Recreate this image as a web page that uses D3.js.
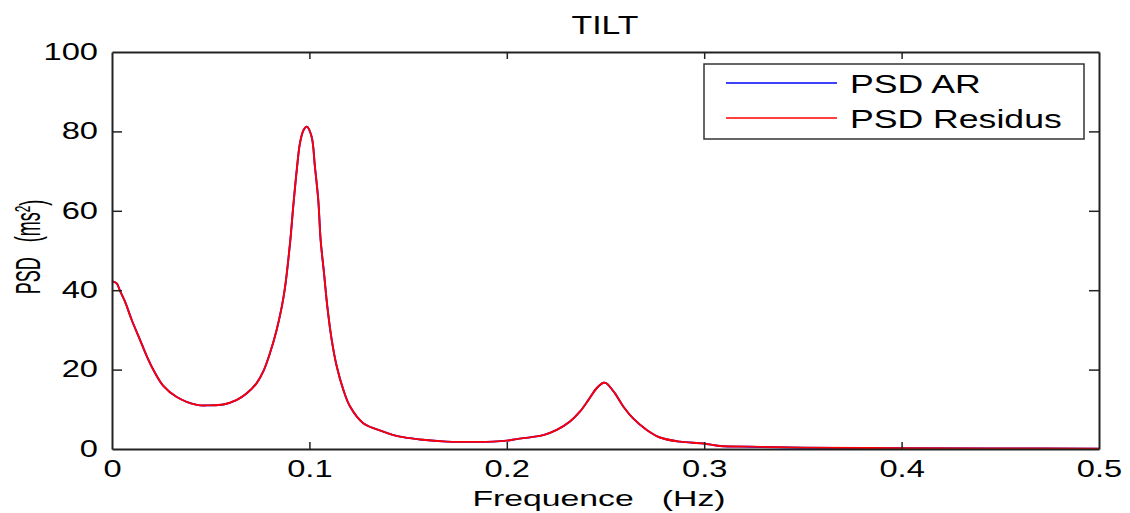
<!DOCTYPE html>
<html>
<head>
<meta charset="utf-8">
<script src="https://cdn.jsdelivr.net/npm/d3@7"></script>
<style>
  html, body { margin: 0; padding: 0; background: #fff; }
  svg { display: block; }
  text { font-family: "Liberation Sans", Arial, sans-serif; fill: #000; }
</style>
</head>
<body>
<svg id="chart" width="1130" height="513"></svg>
<script>
// ---- Data ----
const titleText = "TILT";
const xLabelText = "Frequence   (Hz)";
const yLabelMain = "PSD   (ms";
const seriesNames = ["PSD AR", "PSD Residus"];
const seriesColors = ["#0000ff", "#ff0000"];
const xTicks = [0, 0.1, 0.2, 0.3, 0.4, 0.5];
const yTicks = [0, 20, 40, 60, 80, 100];

const freq = [0, 0.0024, 0.004, 0.0066, 0.01, 0.0142, 0.0176, 0.021, 0.026, 0.0328,
  0.043, 0.0497, 0.0564, 0.063, 0.068, 0.0733, 0.0767, 0.08, 0.0834, 0.086,
  0.0876, 0.0902, 0.0918, 0.0936, 0.0952, 0.097, 0.0987, 0.1011, 0.1028, 0.1045,
  0.1057, 0.1074, 0.1091, 0.1113, 0.1139, 0.1172, 0.1206, 0.1273, 0.1374, 0.1459,
  0.156, 0.1696, 0.18, 0.193, 0.2, 0.205, 0.2125, 0.2185, 0.2253, 0.232,
  0.237, 0.2413, 0.2455, 0.249, 0.2506, 0.2548, 0.259, 0.264, 0.2709, 0.2776,
  0.2877, 0.2996, 0.308, 0.323, 0.35, 0.4, 0.45, 0.5];

const psdResidus = [42.3, 41.7, 39.9, 37.1, 32.5, 27.5, 23.4, 19.9, 15.9, 13.1,
  11.1, 11.0, 11.2, 12.3, 13.9, 16.6, 19.6, 24.1, 30.0, 35.8,
  40.5, 51.9, 61.0, 70.3, 77.0, 80.3, 81.2, 78.7, 71.1, 62.7,
  52.6, 44.3, 35.8, 27.5, 20.7, 14.9, 10.7, 6.5, 4.4, 3.1,
  2.4, 1.85, 1.8, 1.85, 2.1, 2.5, 3.0, 3.5, 4.8, 6.9,
  9.4, 12.3, 15.3, 16.7, 16.5, 14.0, 10.7, 7.7, 4.8, 2.9,
  1.85, 1.4, 0.75, 0.6, 0.35, 0.2, 0.15, 0.1];

const psdAR = [42.3, 41.7, 39.9, 37.1, 32.5, 27.5, 23.4, 19.9, 15.9, 13.1,
  11.1, 11.0, 11.2, 12.3, 13.9, 16.6, 19.6, 24.1, 30.0, 35.8,
  40.5, 51.9, 61.0, 70.3, 77.0, 80.3, 81.2, 78.7, 71.1, 62.7,
  52.6, 44.3, 35.8, 27.5, 20.7, 14.9, 10.7, 6.5, 4.4, 3.1,
  2.4, 1.85, 1.8, 1.85, 2.1, 2.5, 3.0, 3.5, 4.8, 6.9,
  9.4, 12.3, 15.3, 16.7, 16.5, 14.0, 10.7, 7.7, 4.8, 2.9,
  1.85, 1.4, 0.75, 0.55, 0.3, 0.2, 0.15, 0.1];

// ---- Layout ----
const svg = d3.select("#chart");
const mLeft = 112, mRight = 1099, mTop = 52, mBottom = 449;
const x = d3.scaleLinear().domain([0, 0.5]).range([mLeft, mRight]);
const y = d3.scaleLinear().domain([0, 100]).range([mBottom, mTop]);
const axisColor = "#222";
const tickFont = 23, tickStretch = 1.42;

// series
const line = d3.line().x(d => x(d[0])).y(d => y(d[1])).curve(d3.curveCatmullRom.alpha(0.5));
const seriesData = [psdAR, psdResidus];
seriesData.forEach((vals, i) => {
  svg.append("path")
    .datum(freq.map((f, k) => [f, vals[k]]))
    .attr("fill", "none")
    .attr("stroke", seriesColors[i])
    .attr("stroke-width", 1.9)
    .attr("d", line);
});

// axes
function styleAxis(g) {
  g.selectAll("path.domain").attr("stroke", axisColor).attr("stroke-width", 2);
  g.selectAll(".tick line").attr("stroke", axisColor).attr("stroke-width", 1.5);
}
const gLeft = svg.append("g").attr("transform", `translate(${mLeft},0)`)
  .call(d3.axisLeft(y).tickValues(yTicks).tickSizeInner(-10).tickSizeOuter(0).tickPadding(14));
const gBottom = svg.append("g").attr("transform", `translate(0,${mBottom})`)
  .call(d3.axisBottom(x).tickValues(xTicks).tickSizeInner(-7).tickSizeOuter(0).tickPadding(12)
    .tickFormat(d => d === 0 ? "0" : d3.format(".1f")(d)));
const gRight = svg.append("g").attr("transform", `translate(${mRight},0)`)
  .call(d3.axisRight(y).tickValues(yTicks).tickSizeInner(-10).tickSizeOuter(0).tickFormat(""));
const gTop = svg.append("g").attr("transform", `translate(0,${mTop})`)
  .call(d3.axisTop(x).tickValues(xTicks).tickSizeInner(-7).tickSizeOuter(0).tickFormat(""));
[gLeft, gBottom, gRight, gTop].forEach(styleAxis);

gLeft.selectAll(".tick text").each(function () {
  const t = d3.select(this);
  const xx = +t.attr("x");
  t.attr("x", 0).attr("transform", `translate(${xx},0) scale(${tickStretch},1)`)
    .style("font-size", tickFont + "px").attr("fill", "#000");
});
gBottom.selectAll(".tick text").each(function () {
  const t = d3.select(this);
  t.attr("transform", `scale(${tickStretch},1)`)
    .style("font-size", tickFont + "px").attr("fill", "#000");
});
// hide tick lines at the corners (box edges already drawn)
[gLeft, gRight].forEach(g => g.selectAll(".tick").filter(d => d === 0 || d === 100).select("line").remove());
[gTop, gBottom].forEach(g => g.selectAll(".tick").filter(d => d === 0 || d === 0.5).select("line").remove());

// title
svg.append("text")
  .attr("transform", `translate(605,34) scale(1.3,1)`)
  .attr("text-anchor", "middle").style("font-size", "26px")
  .text(titleText);

// x label
svg.append("text")
  .attr("transform", `translate(599,506) scale(1.5,1)`)
  .attr("text-anchor", "middle").style("font-size", "22.5px")
  .style("white-space", "pre")
  .text(xLabelText);

// y label
const yl = svg.append("text")
  .attr("transform", `translate(40,247) rotate(-90) scale(1,1.9)`)
  .attr("text-anchor", "middle").style("font-size", "18px")
  .style("white-space", "pre");
yl.append("tspan").text(yLabelMain);
yl.append("tspan").attr("dy", "-0.45em").style("font-size", "12px").text("2");
yl.append("tspan").attr("dy", "0.45em").text(")");

// legend
const lg = svg.append("g");
lg.append("rect").attr("x", 704).attr("y", 64).attr("width", 380).attr("height", 75)
  .attr("fill", "#fff").attr("stroke", "#333").attr("stroke-width", 1.5);
const legendY = [83, 118];
seriesNames.forEach((name, i) => {
  lg.append("line").attr("x1", 726).attr("x2", 837)
    .attr("y1", legendY[i]).attr("y2", legendY[i])
    .attr("stroke", seriesColors[i]).attr("stroke-width", 1.6);
  lg.append("text")
    .attr("transform", `translate(850,${legendY[i] + 10}) scale(1.37,1)`)
    .style("font-size", "26px").text(name);
});
</script>
</body>
</html>
